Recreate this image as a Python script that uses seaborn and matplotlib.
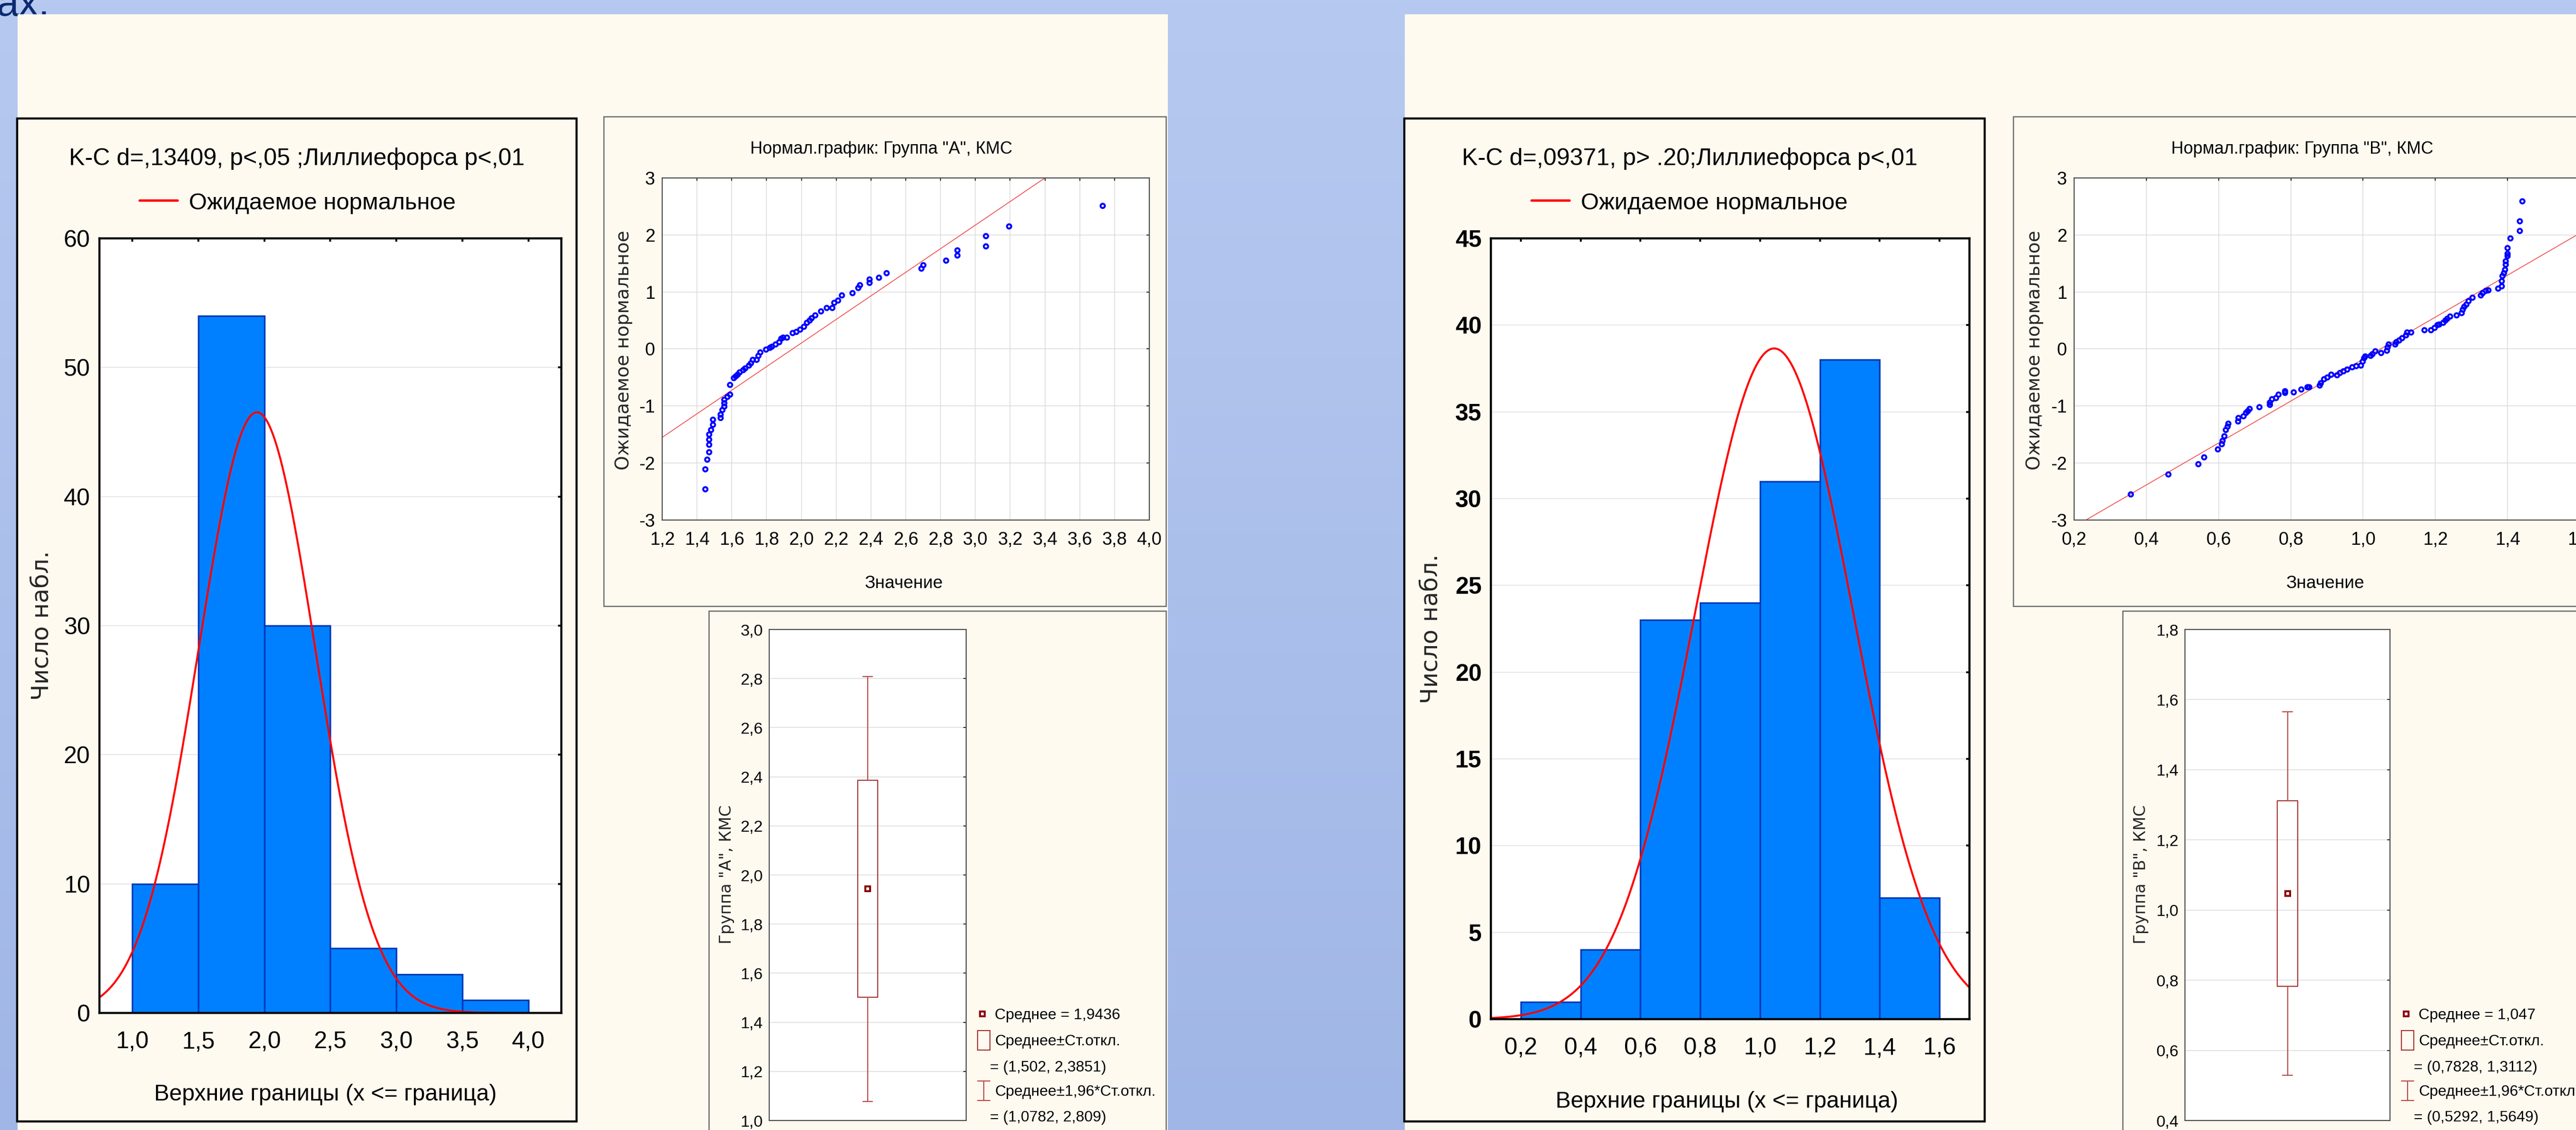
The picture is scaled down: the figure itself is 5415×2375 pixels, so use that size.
import numpy as np
import matplotlib
matplotlib.use("Agg")
import matplotlib.pyplot as plt
import seaborn as sns
from matplotlib import font_manager
from matplotlib.patches import Rectangle
from matplotlib.ticker import FuncFormatter
from matplotlib.colors import LinearSegmentedColormap

# ---------------- data ----------------
# group "A"
hist_a_edges = [1.0, 1.5, 2.0, 2.5, 3.0, 3.5, 4.0]
hist_a_counts = [10, 54, 30, 5, 3, 1]
mean_a = 1.9436
sd_box_a = (1.502, 2.3851)
ci_a = (1.0782, 2.809)
ks_a = "K-C d=,13409, p<,05 ;Лиллиефорса p<,01"

qq_a_x = [1.448, 1.448, 1.459, 1.470, 1.470, 1.470, 1.470, 1.481, 1.492, 1.492,
          1.536, 1.536, 1.546, 1.557, 1.557, 1.557, 1.575, 1.590, 1.590, 1.612,
          1.623, 1.634, 1.645, 1.666, 1.677, 1.699, 1.710, 1.721, 1.743, 1.753,
          1.764, 1.797, 1.819, 1.830, 1.852, 1.873, 1.884, 1.895, 1.917, 1.950,
          1.971, 1.993, 2.015, 2.032, 2.048, 2.059, 2.080, 2.113, 2.146, 2.178,
          2.189, 2.211, 2.233, 2.294, 2.327, 2.337, 2.392, 2.392, 2.446, 2.490,
          2.690, 2.701, 2.832, 2.897, 2.897, 3.061, 3.061, 3.194, 3.732]
qq_a_z = [-2.46, -2.11, -1.94, -1.81, -1.68, -1.59, -1.50, -1.42, -1.33, -1.24,
          -1.21, -1.15, -1.07, -1.01, -0.95, -0.89, -0.84, -0.80, -0.63, -0.51,
          -0.48, -0.45, -0.41, -0.37, -0.34, -0.29, -0.25, -0.19, -0.19, -0.12,
          -0.06, -0.01, 0.02, 0.04, 0.08, 0.12, 0.18, 0.20, 0.20, 0.28,
          0.30, 0.34, 0.39, 0.46, 0.50, 0.54, 0.59, 0.66, 0.72, 0.72,
          0.81, 0.85, 0.94, 0.98, 1.07, 1.12, 1.16, 1.22, 1.25, 1.33,
          1.41, 1.47, 1.55, 1.64, 1.73, 1.80, 1.98, 2.15, 2.51]
ref_a_x = [1.2, 3.4]
ref_a_z = [-1.55, 3.0]

# group "B"
hist_b_edges = [0.2, 0.4, 0.6, 0.8, 1.0, 1.2, 1.4, 1.6]
hist_b_counts = [1, 4, 23, 24, 31, 38, 7]
mean_b = 1.047
sd_box_b = (0.7828, 1.3112)
ci_b = (0.5292, 1.5649)
ks_b = "K-C d=,09371, p> .20;Лиллиефорса p<,01"

qq_b_x = [0.357, 0.461, 0.544, 0.560, 0.598, 0.609, 0.611, 0.616, 0.620, 0.625,
          0.627, 0.654, 0.655, 0.669, 0.676, 0.681, 0.686, 0.713, 0.742, 0.742,
          0.748, 0.759, 0.766, 0.784, 0.784, 0.808, 0.829, 0.846, 0.851, 0.880,
          0.883, 0.892, 0.901, 0.912, 0.928, 0.936, 0.946, 0.956, 0.970, 0.981,
          0.994, 0.999, 1.003, 1.006, 1.021, 1.026, 1.034, 1.050, 1.066, 1.068,
          1.071, 1.089, 1.092, 1.100, 1.108, 1.119, 1.122, 1.133, 1.170, 1.188,
          1.198, 1.206, 1.211, 1.222, 1.228, 1.233, 1.241, 1.259, 1.273, 1.276,
          1.280, 1.286, 1.292, 1.303, 1.326, 1.331, 1.340, 1.347, 1.374, 1.384,
          1.384, 1.386, 1.390, 1.393, 1.395, 1.395, 1.400, 1.400, 1.400, 1.408,
          1.434, 1.434, 1.441]
qq_b_z = [-2.55, -2.20, -2.02, -1.90, -1.76, -1.67, -1.61, -1.53, -1.42, -1.36,
          -1.31, -1.27, -1.21, -1.18, -1.12, -1.09, -1.05, -1.02, -0.98, -0.94,
          -0.88, -0.86, -0.80, -0.77, -0.74, -0.76, -0.71, -0.67, -0.67, -0.64,
          -0.60, -0.53, -0.50, -0.45, -0.46, -0.42, -0.39, -0.36, -0.32, -0.30,
          -0.29, -0.22, -0.16, -0.13, -0.12, -0.09, -0.04, -0.07, -0.03, 0.03,
          0.08, 0.08, 0.12, 0.15, 0.19, 0.24, 0.29, 0.29, 0.33, 0.33,
          0.37, 0.42, 0.43, 0.46, 0.50, 0.53, 0.57, 0.59, 0.63, 0.69,
          0.74, 0.78, 0.84, 0.90, 0.94, 0.98, 1.02, 1.03, 1.06, 1.10,
          1.19, 1.28, 1.33, 1.39, 1.48, 1.54, 1.63, 1.67, 1.77, 1.94,
          2.07, 2.24, 2.59]
ref_b_x = [0.2, 1.6]
ref_b_z = [-3.12, 2.03]

legend_curve = "Ожидаемое нормальное"
hist_xlabel = "Верхние границы (x <= граница)"
hist_ylabel = "Число набл."
qq_title = 'Нормал.график: Группа "{}", КМС'
qq_xlabel = "Значение"
qq_ylabel = "Ожидаемое нормальное"
box_ylabel = 'Группа "{}", КМС'

# ---------------- style ----------------
W, H, DPI = 5415, 2375, 200
sns.set_theme(style="white")
names = {f.name for f in font_manager.fontManager.ttflist}
NARROW = "Liberation Sans Narrow" if "Liberation Sans Narrow" in names else "Liberation Sans"
plt.rcParams["font.family"] = [NARROW, "DejaVu Sans"]
plt.rcParams["axes.unicode_minus"] = False
WIDE = ["DejaVu Sans"]

CREAM = "#FFFAF0"
BAR = "#0080FF"
BAR_EDGE = "#0038B8"
BOXC = "#A33232"


def fs(px):
    # font size in points from em height in pixels
    return px * 72 / DPI


def comma(fmt):
    return FuncFormatter(lambda v, p: format(v, fmt).replace(".", ","))


fig = plt.figure(figsize=(W / DPI, H / DPI), dpi=DPI)

bg = fig.add_axes([0, 0, 1, 1])
bg.set_zorder(0)
grad = np.linspace(0, 1, 256)[:, None]
bg.imshow(grad, extent=[0, W, H, 0], aspect="auto",
          cmap=LinearSegmentedColormap.from_list("slide", ["#B6C9F0", "#A0B6E6"]))
bg.set_xlim(0, W)
bg.set_ylim(H, 0)
bg.axis("off")


def px_axes(l, t, r, b):
    ax = fig.add_axes([l / W, 1 - b / H, (r - l) / W, (b - t) / H])
    ax.set_zorder(2)
    return ax


def rect(l, t, r, b, ec, lw, fc=CREAM, z=2):
    bg.add_patch(Rectangle((l, t), r - l, b - t, facecolor=fc, edgecolor=ec, lw=lw, zorder=z))


def btext(x, y, s, em, ha="left", **kw):
    # y is the centre of capital letters
    bg.text(x, y + 0.358 * em, s, ha=ha, va="baseline", fontsize=fs(em), color="black", zorder=5, **kw)


# slide background, cut-off heading and cream panels
bg.text(-8, 33, "ах.", fontsize=fs(84), color="#0C2A72", va="baseline", zorder=1)
rect(37, 30, 2455, H + 20, "none", 0)
rect(2953, 30, W + 20, H + 20, "none", 0)


# ---------------- histograms ----------------
def histogram(edges, counts, sd_box, mean, ks, box, axbox, xlim, ylim, ystep,
              title_x, leg_x, xlab_x, xlab_y, ylab_x, bold_y):
    rect(*box, "black", 1.6, z=3)
    ax = px_axes(*axbox)
    centers = [(a + b) / 2 for a, b in zip(edges[:-1], edges[1:])]
    sns.histplot(x=centers, weights=counts, bins=edges, ax=ax, color=BAR,
                 edgecolor=BAR_EDGE, linewidth=1.2, alpha=1)
    sd = (sd_box[1] - sd_box[0]) / 2
    bw = edges[1] - edges[0]
    xs = np.linspace(xlim[0], xlim[1], 500)
    ys = sum(counts) * bw * np.exp(-0.5 * ((xs - mean) / sd) ** 2) / (sd * np.sqrt(2 * np.pi))
    sns.lineplot(x=xs, y=ys, ax=ax, color="#FF0000", linewidth=1.5)
    ax.set_xlim(*xlim)
    ax.set_ylim(*ylim)
    ax.set_xticks(edges)
    ax.set_yticks(np.arange(ylim[0], ylim[1] + 0.1, ystep))
    ax.xaxis.set_major_formatter(comma(".1f"))
    ax.yaxis.set_major_formatter(comma(".0f"))
    ax.yaxis.grid(True, color="#E2E2E2", lw=0.6)
    ax.set_axisbelow(True)
    ax.set_xlabel("")
    ax.set_ylabel("")
    ax.tick_params(direction="in", length=2.6, width=1.4, top=True, right=True,
                   labelsize=fs(50), colors="black")
    ax.tick_params(axis="x", pad=14)
    ax.tick_params(axis="y", pad=7)
    if bold_y:
        for t in ax.get_yticklabels():
            t.set_fontweight("bold")
    for s in ax.spines.values():
        s.set_color("black")
        s.set_linewidth(1.6)
    btext(title_x, 329, ks, 50, ha="center")
    bg.plot([leg_x, leg_x + 80], [421, 421], color="#FF0000", lw=1.8, zorder=5)
    btext(leg_x + 104, 422, legend_curve, 49)
    btext(xlab_x, xlab_y, hist_xlabel, 48, ha="center")
    bg.text(ylab_x, (axbox[1] + axbox[3]) / 2, hist_ylabel, rotation=90, ha="center",
            va="center", fontsize=fs(50), family=WIDE, zorder=5)


histogram(hist_a_edges, hist_a_counts, sd_box_a, mean_a, ks_a,
          (36, 249, 1212, 2357), (209, 501, 1180, 2129), (0.75, 4.25), (0, 60), 10,
          624, 293, 684, 2296, 88, False)
histogram(hist_b_edges, hist_b_counts, sd_box_b, mean_b, ks_b,
          (2952, 249, 4172, 2357), (3134, 501, 4140, 2142), (0.1, 1.7), (0, 45), 5,
          3552, 3219, 3630, 2311, 3008, True)


# ---------------- normal probability plots ----------------
def qqplot(qx, qz, rx, rz, grp, frame, axbox, xlim, title_x, xlab_x, ylab_x):
    rect(*frame, "#6A6A6A", 0.9)
    ax = px_axes(*axbox)
    sns.lineplot(x=rx, y=rz, ax=ax, color="#F04848", linewidth=0.6)
    sns.scatterplot(x=qx, y=qz, ax=ax, marker="o", s=10.5, facecolor="none",
                    edgecolor="#0000FF", linewidth=1.45, zorder=3)
    ax.set_xlim(*xlim)
    ax.set_ylim(-3, 3)
    ax.set_xticks(np.arange(xlim[0], xlim[1] + 0.01, 0.2))
    ax.set_yticks(range(-3, 4))
    ax.xaxis.set_major_formatter(comma(".1f"))
    ax.yaxis.set_major_formatter(comma(".0f"))
    ax.grid(True, color="#DADADA", lw=0.55)
    ax.set_axisbelow(True)
    ax.set_xlabel("")
    ax.set_ylabel("")
    ax.tick_params(direction="in", length=2, width=0.6, top=True, right=True,
                   labelsize=fs(38), colors="black")
    ax.tick_params(axis="x", pad=8.5)
    ax.tick_params(axis="y", pad=5.4)
    for s in ax.spines.values():
        s.set_color("#4A4A4A")
        s.set_linewidth(0.8)
    btext(title_x, 310, qq_title.format(grp), 36, ha="center")
    btext(xlab_x, 1223, qq_xlabel, 37, ha="center")
    bg.text(ylab_x, 736, qq_ylabel, rotation=90, ha="center", va="center",
            fontsize=fs(39), family=WIDE, zorder=5)


qqplot(qq_a_x, qq_a_z, ref_a_x, ref_a_z, "A", (1269, 245, 2451, 1274),
       (1392, 374, 2416, 1093), (1.2, 4.0), 1853, 1900, 1311)
qqplot(qq_b_x, qq_b_z, ref_b_x, ref_b_z, "B", (4232, 245, W + 20, 1274),
       (4360, 374, 5423, 1093), (0.2, 1.6), 4840, 4888, 4277)


# ---------------- mean / SD box plots ----------------
def meanbox(mean, sd_box, ci, grp, frame, axbox, ylim, ylab_x, leg_x):
    rect(*frame, "#6A6A6A", 0.9)
    ax = px_axes(*axbox)
    stats = [dict(med=mean, mean=mean, q1=sd_box[0], q3=sd_box[1],
                  whislo=ci[0], whishi=ci[1], fliers=[])]
    ax.bxp(stats, positions=[0], widths=0.2, capwidths=0.1, showmeans=True,
           showfliers=False, boxprops=dict(color=BOXC, lw=0.8),
           whiskerprops=dict(color="#B84646", lw=0.8), capprops=dict(color="#B84646", lw=0.8),
           medianprops=dict(linestyle="none"),
           meanprops=dict(marker="s", markerfacecolor="white", markeredgecolor="#8B0000",
                          markersize=3.8, markeredgewidth=1.5))
    ax.set_xlim(-1, 1)
    ax.set_ylim(*ylim)
    ax.set_xticks([])
    ax.set_yticks(np.arange(ylim[0], ylim[1] + 0.01, 0.2))
    ax.yaxis.set_major_formatter(comma(".1f"))
    ax.yaxis.grid(True, color="#DADADA", lw=0.55)
    ax.set_axisbelow(True)
    ax.tick_params(axis="y", direction="in", length=2, width=0.6, right=True,
                   labelsize=fs(34), colors="black", pad=4.7)
    for s in ax.spines.values():
        s.set_color("#4A4A4A")
        s.set_linewidth(0.8)
    bg.text(ylab_x, 1838, box_ylabel.format(grp), rotation=90, ha="center", va="center",
            fontsize=fs(34), family=WIDE, zorder=5)

    # legend
    c = lambda v: str(v).replace(".", ",")
    bg.plot([leg_x + 10], [2131], marker="s", markerfacecolor="white", markeredgecolor="#8B0000",
            markersize=3.8, markeredgewidth=1.5, zorder=6)
    bg.add_patch(Rectangle((leg_x, 2166), 26, 41, facecolor="none", edgecolor=BOXC, lw=0.8, zorder=6))
    xm = leg_x + 13
    bg.plot([xm, xm], [2272, 2313], color="#B84646", lw=0.8, zorder=6)
    bg.plot([leg_x, leg_x + 26], [2272, 2272], color="#B84646", lw=0.8, zorder=6)
    bg.plot([leg_x, leg_x + 26], [2313, 2313], color="#B84646", lw=0.8, zorder=6)
    tx = leg_x + 36
    btext(tx, 2131, "Среднее = " + c(mean), 32)
    btext(tx, 2186, "Среднее±Ст.откл.", 32)
    btext(tx - 10, 2241, "= ({}, {})".format(c(sd_box[0]), c(sd_box[1])), 32)
    btext(tx, 2292, "Среднее±1,96*Ст.откл.", 32)
    btext(tx - 10, 2346, "= ({}, {})".format(c(ci[0]), c(ci[1])), 32)


meanbox(mean_a, sd_box_a, ci_a, "A", (1490, 1284, 2451, H + 20),
        (1617, 1323, 2031, 2355), (1.0, 3.0), 1528, 2055)
meanbox(mean_b, sd_box_b, ci_b, "B", (4462, 1284, W + 20, H + 20),
        (4593, 1323, 5024, 2355), (0.4, 1.8), 4501, 5048)

fig.savefig("out.png", dpi=DPI)
